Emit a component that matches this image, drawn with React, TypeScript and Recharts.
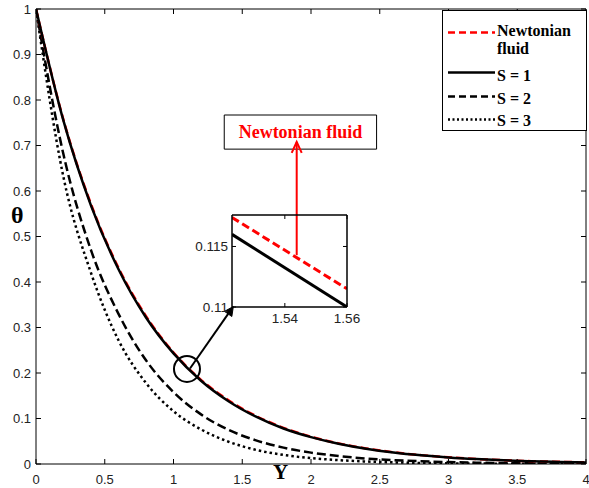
import React from "react";
import { LineChart, Line, XAxis, YAxis, Legend, ReferenceDot, ReferenceLine, ReferenceArea } from "recharts";

// main plot
const yPos = [0, 0.2, 0.4, 0.6, 0.8, 1, 1.2, 1.4, 1.6, 1.8, 2, 2.2, 2.4, 2.6, 2.8, 3, 3.2, 3.4, 3.6, 3.8, 4];
const newtonian = [1, 0.756, 0.571, 0.431, 0.325, 0.245, 0.185, 0.14, 0.1055, 0.0795, 0.06, 0.0453, 0.0342, 0.0258, 0.0195, 0.0147, 0.0111, 0.0084, 0.0063, 0.0048, 0.0036];
const s1 = [1, 0.754, 0.568, 0.428, 0.322, 0.243, 0.183, 0.138, 0.104, 0.078, 0.059, 0.0445, 0.0335, 0.0252, 0.019, 0.0143, 0.0108, 0.0081, 0.0061, 0.0046, 0.0035];
const s2 = [1, 0.68, 0.47, 0.33, 0.228, 0.158, 0.109, 0.075, 0.052, 0.036, 0.025, 0.0175, 0.012, 0.0085, 0.006, 0.0042, 0.003, 0.0021, 0.0015, 0.001, 0.0007];
const s3 = [1, 0.63, 0.42, 0.272, 0.178, 0.116, 0.076, 0.049, 0.031, 0.02, 0.013, 0.0085, 0.0055, 0.0036, 0.0023, 0.0015, 0.001, 0.0006, 0.0004, 0.0003, 0.0002];

const xTicks = [0, 0.5, 1, 1.5, 2, 2.5, 3, 3.5, 4];
const thetaTicks = [0, 0.1, 0.2, 0.3, 0.4, 0.5, 0.6, 0.7, 0.8, 0.9, 1];

// zoomed inset
const insetY = [1.523, 1.56];
const insetNewtonian = [0.1174, 0.1115];
const insetS1 = [0.116, 0.11];
const insetXTicks = [1.54, 1.56];
const insetThetaTicks = [0.11, 0.115];

const rows = yPos.map((y, i) => ({ y, newtonian: newtonian[i], s1: s1[i], s2: s2[i], s3: s3[i] }));
const insetRows = insetY.map((y, i) => ({ y, newtonian: insetNewtonian[i], s1: insetS1[i] }));

const sans = "'Liberation Sans', Arial, sans-serif";
const serif = "'Liberation Serif', 'Times New Roman', serif";

const bottomTick = (len: number, size: number, dy: number, label = true) => (p: any) => (
  <g>
    <line x1={p.x} x2={p.x} y1={p.y} y2={p.y - len} stroke="#000" strokeWidth={1} />
    {label && (
      <text x={p.x} y={p.y + dy} textAnchor="middle" fontSize={size} fontFamily={sans} fill="#222">
        {String(p.payload.value)}
      </text>
    )}
  </g>
);
const leftTick = (len: number, size: number, dx: number, label = true) => (p: any) => (
  <g>
    <line x1={p.x} x2={p.x + len} y1={p.y} y2={p.y} stroke="#000" strokeWidth={1} />
    {label && (
      <text x={p.x - dx} y={p.y + size * 0.36} textAnchor="end" fontSize={size} fontFamily={sans} fill="#222">
        {String(p.payload.value)}
      </text>
    )}
  </g>
);
const topTick = (len: number) => (p: any) => (
  <line x1={p.x} x2={p.x} y1={p.y} y2={p.y + len} stroke="#000" strokeWidth={1} />
);
const rightTick = (len: number) => (p: any) => (
  <line x1={p.x} x2={p.x - len} y1={p.y} y2={p.y} stroke="#000" strokeWidth={1} />
);

const axisBase = {
  type: "number" as const,
  tickSize: 0,
  tickMargin: 0,
  tickLine: false,
  interval: 0 as const,
  allowDataOverflow: true,
};

const arrow = (color: string, filled: boolean, head: number, half: number, w: number) => (props: any) => {
  const { x1, y1, x2, y2 } = props;
  const a = Math.atan2(y2 - y1, x2 - x1);
  const bx = x2 - head * Math.cos(a);
  const by = y2 - head * Math.sin(a);
  const lx = bx + half * Math.sin(a);
  const ly = by - half * Math.cos(a);
  const rx = bx - half * Math.sin(a);
  const ry = by + half * Math.cos(a);
  return (
    <g>
      <line x1={x1} y1={y1} x2={filled ? bx : x2} y2={filled ? by : y2} stroke={color} strokeWidth={w} />
      {filled ? (
        <polygon points={`${x2},${y2} ${lx},${ly} ${rx},${ry}`} fill={color} stroke={color} strokeWidth={1} />
      ) : (
        <polyline points={`${lx},${ly} ${x2},${y2} ${rx},${ry}`} fill="none" stroke={color} strokeWidth={w} />
      )}
    </g>
  );
};

const legendItems = [
  { lines: ["Newtonian", "fluid"], color: "#ff0000", dash: "7 4", ly: 21.5, ty: [25, 43] },
  { lines: ["S = 1"], color: "#000", dash: undefined, ly: 61.5, ty: [69.5] },
  { lines: ["S = 2"], color: "#000", dash: "7 4", ly: 85.5, ty: [92.5] },
  { lines: ["S = 3"], color: "#000", dash: "2 2.5", ly: 108.5, ty: [115] },
];

const LegendBox = () => (
  <div style={{ width: 145, height: 121, border: "1.5px solid #000", background: "#fff", boxSizing: "border-box" }}>
    <svg width={142} height={118} style={{ display: "block", overflow: "visible" }}>
      {legendItems.map((it) => (
        <g key={it.lines[0]}>
          <line x1={5} x2={52} y1={it.ly} y2={it.ly} stroke={it.color} strokeWidth={2.5} strokeDasharray={it.dash} />
          {it.lines.map((t, j) => (
            <text key={t} x={54} y={it.ty[j]} fontFamily={serif} fontWeight="bold" fontSize={16} fill="#000">
              {t}
            </text>
          ))}
        </g>
      ))}
    </svg>
  </div>
);

export default function App() {
  return (
    <div style={{ position: "absolute", left: 0, top: 0, width: 589, height: 488, background: "#fff" }}>
      <LineChart width={589} height={488} data={rows} margin={{ top: 8, right: 2, bottom: 0, left: 0 }}>
        <XAxis {...axisBase} xAxisId="b" dataKey="y" domain={[0, 4]} ticks={xTicks} height={24}
          axisLine={{ stroke: "#000" }} tick={bottomTick(5, 13, 20)} />
        <XAxis {...axisBase} xAxisId="t" orientation="top" dataKey="y" domain={[0, 4]} ticks={xTicks} height={1}
          axisLine={{ stroke: "#000" }} tick={topTick(5)} />
        <YAxis {...axisBase} yAxisId="l" domain={[0, 1]} ticks={thetaTicks} width={36}
          axisLine={{ stroke: "#000" }} tick={leftTick(5, 13, 5)} />
        <YAxis {...axisBase} yAxisId="r" orientation="right" domain={[0, 1]} ticks={thetaTicks} width={1}
          axisLine={{ stroke: "#000" }} tick={rightTick(5)} />

        {/* hidden copy so the top and right frame axes get drawn */}
        <Line xAxisId="t" yAxisId="r" type="monotone" dataKey="s1" stroke="none" dot={false}
          legendType="none" isAnimationActive={false} />

        <Line xAxisId="b" yAxisId="l" type="monotone" dataKey="s3" stroke="#000" strokeWidth={2.5}
          strokeDasharray="2.5 3" dot={false} isAnimationActive={false} />
        <Line xAxisId="b" yAxisId="l" type="monotone" dataKey="s2" stroke="#000" strokeWidth={2.5}
          strokeDasharray="9 4" dot={false} isAnimationActive={false} />
        <Line xAxisId="b" yAxisId="l" type="monotone" dataKey="newtonian" stroke="#ff0000" strokeWidth={2.5}
          strokeDasharray="8 4" dot={false} isAnimationActive={false} />
        <Line xAxisId="b" yAxisId="l" type="monotone" dataKey="s1" stroke="#000" strokeWidth={2.5}
          dot={false} isAnimationActive={false} />

        <ReferenceDot xAxisId="b" yAxisId="l" x={1.098} y={0.209} r={13} fill="none" stroke="#000" strokeWidth={2} />
        <ReferenceLine xAxisId="b" yAxisId="l" segment={[{ x: 1.12, y: 0.21 }, { x: 1.435, y: 0.346 }]}
          shape={arrow("#000", true, 9, 4.5, 2)} />
        <ReferenceArea xAxisId="b" yAxisId="l" x1={1.369} x2={2.477} y1={0.692} y2={0.767}
          fill="#fff" fillOpacity={1} stroke="#000" strokeWidth={1}
          label={{ value: "Newtonian fluid", position: "center", fill: "#ff0000", fontSize: 18, fontWeight: "bold", fontFamily: serif }} />
        <ReferenceLine xAxisId="b" yAxisId="l" segment={[{ x: 1.896, y: 0.459 }, { x: 1.896, y: 0.708 }]}
          shape={arrow("#ff0000", false, 11, 5, 2)} />

        <Legend layout="horizontal" verticalAlign="middle" align="center" content={() => <LegendBox />}
          wrapperStyle={{ left: 442, top: 10, width: 145, height: 121 }} />
      </LineChart>

      <div style={{ position: "absolute", left: 186, top: 205 }}>
        <LineChart width={185} height={124} data={insetRows} margin={{ top: 9, right: 23, bottom: 0, left: 0 }}>
          <XAxis {...axisBase} xAxisId="b" dataKey="y" domain={[1.523, 1.56]} ticks={insetXTicks} height={22}
            axisLine={{ stroke: "#000", strokeWidth: 1.5 }} tick={bottomTick(4, 13.5, 16)} />
          <XAxis {...axisBase} xAxisId="t" orientation="top" dataKey="y" domain={[1.523, 1.56]} ticks={insetXTicks}
            height={1} axisLine={{ stroke: "#000", strokeWidth: 1.5 }} tick={topTick(4)} />
          <YAxis {...axisBase} yAxisId="l" domain={[0.11, 0.1176]} ticks={insetThetaTicks} width={46}
            axisLine={{ stroke: "#000", strokeWidth: 1.5 }} tick={leftTick(4, 13.5, 4)} />
          <YAxis {...axisBase} yAxisId="r" orientation="right" domain={[0.11, 0.1176]} ticks={insetThetaTicks}
            width={1} axisLine={{ stroke: "#000", strokeWidth: 1.5 }} tick={rightTick(4)} />
          <Line xAxisId="t" yAxisId="r" type="linear" dataKey="s1" stroke="none" dot={false}
            legendType="none" isAnimationActive={false} />
          <Line xAxisId="b" yAxisId="l" type="linear" dataKey="newtonian" stroke="#ff0000" strokeWidth={3}
            strokeDasharray="8 4" dot={false} isAnimationActive={false} />
          <Line xAxisId="b" yAxisId="l" type="linear" dataKey="s1" stroke="#000" strokeWidth={3}
            dot={false} isAnimationActive={false} />
        </LineChart>
      </div>

      <div style={{ position: "absolute", left: 11, top: 203, fontFamily: serif, fontWeight: "bold", fontSize: 24, lineHeight: "24px" }}>
        θ
      </div>
      <div style={{ position: "absolute", left: 273, top: 462, fontFamily: serif, fontWeight: "bold", fontSize: 21, lineHeight: "21px" }}>
        Y
      </div>
    </div>
  );
}
